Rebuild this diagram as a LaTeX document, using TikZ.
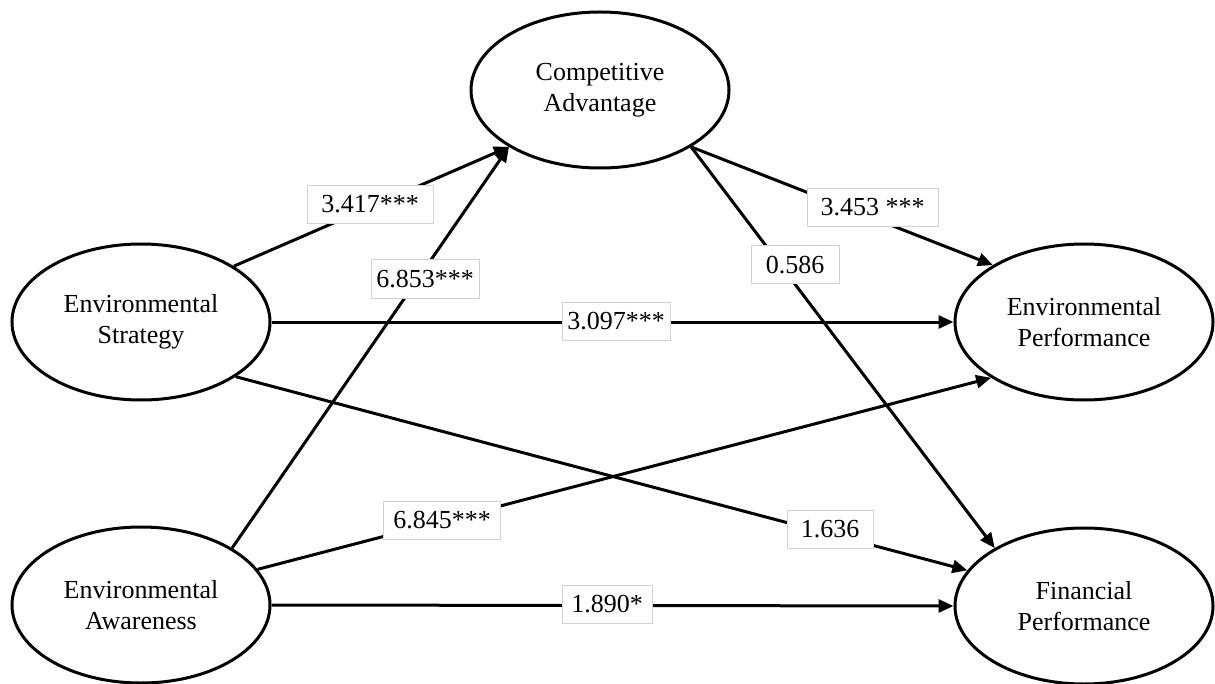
\documentclass[tikz,border=0pt]{standalone}
\usepackage{fontspec}
\setmainfont{Liberation Serif}
\usetikzlibrary{arrows.meta,shapes.geometric}
\begin{document}
\begin{tikzpicture}[x=0.5pt,y=-0.5pt,
  latent/.style={ellipse, draw=black, line width=1.5pt, minimum width=129pt, minimum height=78pt,
    inner sep=0pt, align=center, font=\fontsize{13pt}{15.5pt}\selectfont},
  pathline/.style={line width=1.5pt, -{Triangle[length=7.5pt,width=6.5pt]}},
  coef/.style={draw=gray!35, fill=white, line width=0.5pt, minimum height=19pt, inner sep=0pt,
    font=\fontsize{13pt}{15pt}\selectfont}]
\useasboundingbox (0,0) rectangle (1215,684);

\node[latent] (ca) at (600,90) {Competitive\\Advantage};
\node[latent] (es) at (141,322) {Environmental\\Strategy};
\node[latent] (ea) at (141,605) {Environmental\\Awareness};
\node[latent] (ep) at (1084,322) {Environmental\\Performance};
\node[latent] (fp) at (1084,606) {Financial\\Performance};

\draw[pathline] (es.31) -- (ca.212);
\draw[pathline] (ea.32) -- (ca.212);
\draw[pathline] (ca.328) -- (ep.148);
\draw[pathline] (ca.328) -- (fp.147);
\draw[pathline] (es.east) -- (ep.west);
\draw[pathline] (es.330) -- (fp.163);
\draw[pathline] (ea.17.5) -- (ep.211);
\draw[pathline] (ea.east) -- (fp.west);

\node[coef, minimum width=63pt] (l1) at (370,204.5) {3.417***};
\node[coef, minimum width=54pt] (l2) at (425,279) {6.853***};
\node[coef, minimum width=65.5pt] (l3) at (872.5,207.5) {3.453 ***};
\node[coef, minimum width=44pt] (l4) at (795,265) {0.586};
\node[coef, minimum width=54pt] (l5) at (616,321) {3.097***};
\node[coef, minimum width=58.5pt] (l6) at (442,520) {6.845***};
\node[coef, minimum width=43pt] (l7) at (830,529.5) {1.636};
\node[coef, minimum width=45pt] (l8) at (607,604) {1.890*};
\end{tikzpicture}
\end{document}
